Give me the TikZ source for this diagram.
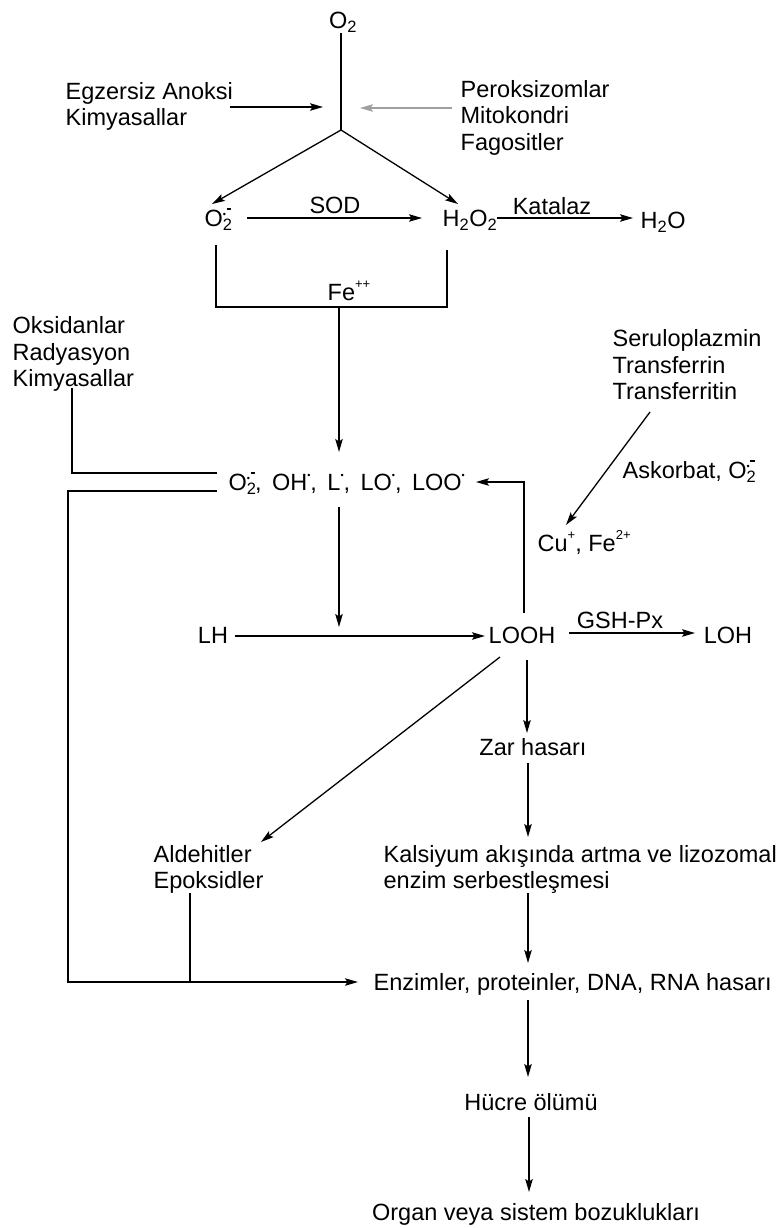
\documentclass[tikz,border=0pt]{standalone}
\usepackage{fontspec}
\setmainfont{Liberation Sans}
\usetikzlibrary{arrows.meta}
\newcommand\fs{\fontsize{23.5}{26.5}\selectfont}
\newcommand\rdot{\raisebox{1.0ex}{\fontsize{9}{9}\selectfont •}}
\newcommand\supox{O\rlap{\textsubscript{2}}\raisebox{0.75ex}{\fontsize{9}{9}\selectfont •}\kern0.5pt\raisebox{1.35ex}{\rule{4.5pt}{1.8pt}}}
\newcommand\smsup[1]{\raisebox{1.0ex}{\fontsize{13}{13}\selectfont #1}}
\begin{document}
\begin{tikzpicture}[x=1pt,y=-1pt,line width=1.3pt,
  arr/.style={-{Stealth[length=13pt,width=7.5pt,inset=2.5pt]}},
  lbl/.style={font=\fs,inner sep=0pt,text height=17pt,text depth=0pt},
  mlbl/.style={font=\fs,inner sep=0pt,align=left,anchor=north west}]
\useasboundingbox[fill=white] (0,0) rectangle (782,1228);

% top
\node[lbl] (o2) at (343,20) {O\textsubscript{2}};
\coordinate (o2b) at (341,33);
\coordinate (j) at (341,130);
\draw (o2b) -- (j);
\node[mlbl] (egz) at (65,81.5) {Egzersiz Anoksi\\Kimyasallar};
\coordinate (la1) at (230,107);
\coordinate (la2) at (323,107);
\draw[arr] (la1) -- (la2);
\node[mlbl] (per) at (460,79.5) {Peroksizomlar\\Mitokondri\\Fagositler};
\coordinate (ra1) at (452,108);
\coordinate (ra2) at (360,108);
\draw[arr,gray!75] (ra1) -- (ra2);

\node[lbl,anchor=west] (sup) at (204,218) {\supox};
\node[lbl,anchor=west] (h2o2) at (442,218) {H\textsubscript{2}O\textsubscript{2}};
\coordinate (supt) at (212,204);
\coordinate (h2o2t) at (458,204);
\draw[arr] (j) -- (supt);
\draw[arr] (j) -- (h2o2t);
\coordinate (s1) at (247,218);
\coordinate (s2) at (422,218);
\draw[arr] (s1) -- (s2);
\node[lbl] (sod) at (335,205) {SOD};
\node[lbl,anchor=west] (h2o) at (640,220) {H\textsubscript{2}O};
\coordinate (k1) at (497,218);
\coordinate (k2) at (633,218);
\draw[arr] (k1) -- (k2);
\node[lbl] (kat) at (552,206) {Katalaz};

% bracket
\coordinate (b1) at (216,245);
\coordinate (b2) at (447,250);
\draw (b1) -- (216,307) -- (447,307) -- (b2);
\node[lbl] (fe) at (349,292) {Fe\smsup{++}};
\coordinate (fej) at (339,307);
\coordinate (fet) at (339,452);
\draw[arr] (fej) -- (fet);

% radicals row
\node[mlbl] (oks) at (12,316) {Oksidanlar\\Radyasyon\\Kimyasallar};
\coordinate (ok1) at (72,388);
\coordinate (ok2) at (217,473);
\draw (ok1) |- (ok2);
\node[lbl,anchor=west] (rad) at (228,482) {\supox,\, OH\rdot,\, L\rdot,\, LO\rdot,\, LOO\rdot};
\coordinate (lf1) at (217,491);
\coordinate (lf2) at (68,491);
\coordinate (lf3) at (68,982);
\node[lbl,anchor=west] (enz) at (373,982) {\resizebox{398pt}{\height}{Enzimler, proteinler, DNA, RNA hasarı}};
\coordinate (lf4) at (358,982);
\draw[arr] (lf1) -- (lf2) -- (lf3) -- (lf4);

\node[mlbl] (ser) at (612,329) {Seruloplazmin\\Transferrin\\Transferritin};
\node[lbl,anchor=west] (ask) at (622,470) {Askorbat, \supox};
\node[lbl,anchor=west] (cu) at (537,543) {Cu\smsup{+}, Fe\smsup{2+}};
\coordinate (se1) at (650,412);
\coordinate (se2) at (566,525);
\draw[arr] (se1) -- (se2);

% LH row
\node[lbl] (lh) at (213,635) {LH};
\node[lbl] (looh) at (522,635) {LOOH};
\node[lbl] (loh) at (728,635) {LOH};
\coordinate (ra) at (339,507);
\coordinate (rb) at (339,627);
\draw[arr] (ra) -- (rb);
\coordinate (lh1) at (235,636);
\coordinate (lh2) at (485,636);
\draw[arr] (lh1) -- (lh2);
\coordinate (g1) at (569,633);
\coordinate (g2) at (695,633);
\draw[arr] (g1) -- (g2);
\node[lbl] (gsh) at (620,620) {GSH-Px};
\coordinate (lo1) at (524,613);
\coordinate (lo2) at (476,482);
\draw[arr] (lo1) |- (lo2);

% lower part
\node[mlbl] (ald) at (153,844.5) {Aldehitler\\Epoksidler};
\coordinate (d1) at (500,657);
\coordinate (d2) at (261,842);
\draw[arr] (d1) -- (d2);
\node[lbl] (zar) at (533,747) {Zar hasarı};
\coordinate (z1) at (527,660);
\coordinate (z2) at (527,733);
\draw[arr] (z1) -- (z2);
\node[mlbl] (kal) at (383,844.5) {Kalsiyum akışında artma ve lizozomal\\enzim serbestleşmesi};
\coordinate (z3) at (528,763);
\coordinate (z4) at (528,837);
\draw[arr] (z3) -- (z4);
\coordinate (z5) at (528,893);
\coordinate (z6) at (528,963);
\draw[arr] (z5) -- (z6);
\coordinate (al1) at (190,893);
\coordinate (al2) at (190,982);
\draw (al1) -- (al2);
\node[lbl] (huc) at (531,1102) {Hücre ölümü};
\coordinate (z7) at (528,1000);
\coordinate (z8) at (528,1077);
\draw[arr] (z7) -- (z8);
\node[lbl] (org) at (536,1212) {Organ veya sistem bozuklukları};
\coordinate (z9) at (529,1117);
\coordinate (z10) at (529,1192);
\draw[arr] (z9) -- (z10);
\end{tikzpicture}
\end{document}
